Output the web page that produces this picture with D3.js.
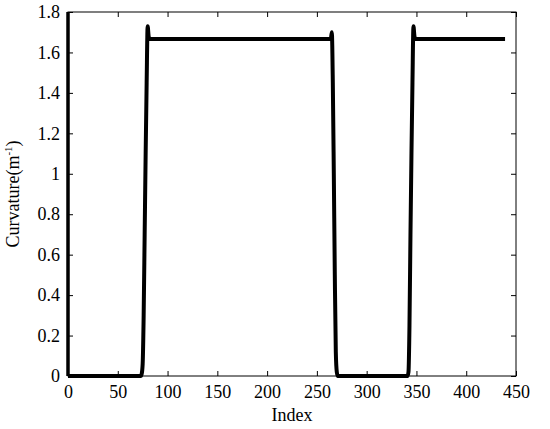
<!DOCTYPE html>
<html>
<head>
<meta charset="utf-8">
<script src="https://cdn.jsdelivr.net/npm/d3@7"></script>
<style>
  body { margin: 0; background: #fff; }
  svg text { font-family: "Liberation Serif", "Times New Roman", Times, "DejaVu Serif", serif !important; }
</style>
</head>
<body>
<svg id="chart"></svg>
<script>
const width = 550;
const height = 429;
const margin = {top: 12, left: 68, bottom: 53, right: 34};

// curve, as break points (index, curvature)
const indexVals = [0, 73, 74, 75, 76, 77, 78, 79, 80, 81, 82,
  264, 265, 266, 267, 268, 269, 270, 271,
  341, 342, 343, 344, 345, 346, 347, 348, 349, 439];
const curvatureVals = [0, 0, 0.01, 0.06, 0.3, 0.7, 1.1, 1.45, 1.73, 1.68, 1.667,
  1.667, 1.70, 1.45, 1.0, 0.5, 0.12, 0.02, 0,
  0, 0.02, 0.25, 0.7, 1.1, 1.45, 1.73, 1.68, 1.667, 1.667];

const xTicks = [0, 50, 100, 150, 200, 250, 300, 350, 400, 450];
const yTicks = [0, 0.2, 0.4, 0.6, 0.8, 1, 1.2, 1.4, 1.6, 1.8];

const data = indexVals.map((d, i) => ({x: d, y: curvatureVals[i]}));

const svg = d3.select("#chart")
    .attr("width", width)
    .attr("height", height);

const x = d3.scaleLinear()
    .domain([0, 450])
    .range([margin.left, width - margin.right]);

const y = d3.scaleLinear()
    .domain([0, 1.8])
    .range([height - margin.bottom, margin.top]);

const fmt = d => d === 0 ? "0" : (Number.isInteger(d) ? String(d) : d3.format(".1f")(d));

// axes with inward ticks
const xAxis = g => g
    .attr("transform", `translate(0,${height - margin.bottom})`)
    .call(d3.axisBottom(x).tickValues(xTicks).tickSize(-5).tickPadding(9).tickFormat(d => d))
    .call(g => g.select(".domain").remove());

const xAxisTop = g => g
    .attr("transform", `translate(0,${margin.top})`)
    .call(d3.axisTop(x).tickValues(xTicks).tickSize(-5).tickFormat(""))
    .call(g => g.select(".domain").remove());

const yAxis = g => g
    .attr("transform", `translate(${margin.left},0)`)
    .call(d3.axisLeft(y).tickValues(yTicks).tickSize(-5).tickPadding(8).tickFormat(fmt))
    .call(g => g.select(".domain").remove());

const yAxisRight = g => g
    .attr("transform", `translate(${width - margin.right},0)`)
    .call(d3.axisRight(y).tickValues(yTicks).tickSize(-5).tickFormat(""))
    .call(g => g.select(".domain").remove());

svg.append("g").call(xAxis);
svg.append("g").call(xAxisTop);
svg.append("g").call(yAxis);
svg.append("g").call(yAxisRight);

svg.selectAll("g").attr("font-family", null).attr("font-size", null);
svg.selectAll(".tick line").attr("stroke", "#000").attr("stroke-width", 1);
svg.selectAll(".tick text")
    .attr("fill", "#000")
    .style("font-size", "18px");

// box
svg.append("rect")
    .attr("x", margin.left)
    .attr("y", margin.top)
    .attr("width", width - margin.left - margin.right)
    .attr("height", height - margin.top - margin.bottom)
    .attr("fill", "none")
    .attr("stroke", "#000")
    .attr("stroke-width", 1);

svg.append("line")
    .attr("x1", margin.left).attr("x2", margin.left)
    .attr("y1", margin.top).attr("y2", height - margin.bottom)
    .attr("stroke", "#000")
    .attr("stroke-width", 3.5);

// curve
const line = d3.line()
    .x(d => x(d.x))
    .y(d => y(d.y))
    .curve(d3.curveMonotoneX);

svg.append("path")
    .datum(data)
    .attr("fill", "none")
    .attr("stroke", "#000")
    .attr("stroke-width", 4)
    .attr("stroke-linejoin", "round")
    .attr("d", line);

// labels
svg.append("text")
    .attr("x", (margin.left + width - margin.right) / 2)
    .attr("y", 421)
    .attr("text-anchor", "middle")
    .style("font-size", "18px")
    .text("Index");

const yl = svg.append("text")
    .attr("transform", `translate(19,${(margin.top + height - margin.bottom) / 2}) rotate(-90)`)
    .attr("text-anchor", "middle")
    .style("font-size", "18px");
yl.append("tspan").text("Curvature(m");
yl.append("tspan").attr("dy", -7).style("font-size", "11px").text("-1");
yl.append("tspan").attr("dy", 7).text(")");
</script>
</body>
</html>
